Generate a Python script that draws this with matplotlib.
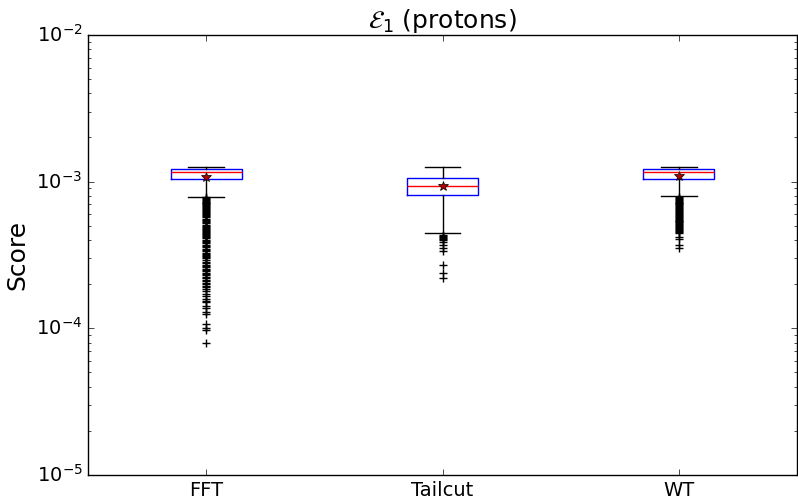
import matplotlib
matplotlib.use("Agg")
import matplotlib.pyplot as plt

# Per-method score distribution summaries (protons, E_1 metric)
methods = ["FFT", "Tailcut", "WT"]
medians = [1.16e-3, 9.35e-4, 1.163e-3]
q1 = [1.038e-3, 8.11e-4, 1.038e-3]
q3 = [1.215e-3, 1.065e-3, 1.215e-3]
whislo = [7.9e-4, 4.45e-4, 8.0e-4]
whishi = [1.259e-3, 1.253e-3, 1.253e-3]
means = [1.072e-3, 9.35e-4, 1.093e-3]

fliers_fft = [7.8e-4, 7.7e-4, 7.6e-4, 7.5e-4, 7.4e-4, 7.3e-4, 7.2e-4, 7.1e-4,
              7.0e-4, 6.9e-4, 6.8e-4, 6.7e-4, 6.6e-4, 6.5e-4, 6.4e-4, 6.3e-4,
              6.2e-4, 6.1e-4, 6.0e-4, 5.9e-4, 5.8e-4, 5.7e-4, 5.6e-4, 5.5e-4,
              5.4e-4, 5.3e-4, 5.2e-4, 5.1e-4, 5.0e-4, 4.92e-4, 4.85e-4,
              4.77e-4, 4.7e-4, 4.62e-4, 4.55e-4, 4.47e-4, 4.4e-4, 4.32e-4,
              4.25e-4, 4.17e-4, 4.1e-4, 4.02e-4, 3.95e-4, 3.87e-4, 3.8e-4,
              3.72e-4, 3.65e-4, 3.57e-4, 3.5e-4, 3.42e-4, 3.35e-4, 3.27e-4,
              3.2e-4, 3.15e-4, 3.1e-4, 3.05e-4, 3.0e-4, 2.92e-4, 2.85e-4,
              2.77e-4, 2.7e-4, 2.65e-4, 2.6e-4, 2.55e-4, 2.5e-4, 2.45e-4,
              2.4e-4, 2.35e-4, 2.3e-4, 2.25e-4, 2.2e-4, 2.15e-4, 2.1e-4,
              2.05e-4, 2.0e-4, 1.95e-4, 1.9e-4, 1.85e-4, 1.8e-4, 1.72e-4,
              1.65e-4, 1.58e-4, 1.54e-4, 1.5e-4, 1.43e-4, 1.37e-4, 1.3e-4,
              1.25e-4, 1.07e-4, 1.01e-4, 9.7e-5, 8.0e-5]
fliers_tailcut = [4.33e-4, 4.25e-4, 4.2e-4, 4.1e-4, 4.05e-4, 4.0e-4, 3.9e-4,
                  3.7e-4, 3.52e-4, 3.37e-4, 2.7e-4, 2.4e-4, 2.2e-4]
fliers_wt = [7.8e-4, 7.7e-4, 7.6e-4, 7.5e-4, 7.4e-4, 7.3e-4, 7.2e-4, 7.1e-4,
             7.0e-4, 6.9e-4, 6.8e-4, 6.7e-4, 6.6e-4, 6.5e-4, 6.4e-4, 6.3e-4,
             6.2e-4, 6.1e-4, 6.0e-4, 5.9e-4, 5.8e-4, 5.72e-4, 5.65e-4,
             5.57e-4, 5.5e-4, 5.42e-4, 5.35e-4, 5.27e-4, 5.2e-4, 5.12e-4,
             5.05e-4, 4.97e-4, 4.9e-4, 4.82e-4, 4.75e-4, 4.67e-4, 4.6e-4,
             4.53e-4, 4.47e-4, 4.2e-4, 4.05e-4, 3.7e-4, 3.52e-4]

fliers = [fliers_fft, fliers_tailcut, fliers_wt]

plt.style.use("classic")
plt.rcParams["mathtext.fontset"] = "dejavusans"

stats = []
for i, name in enumerate(methods):
    stats.append(dict(label=name, med=medians[i], q1=q1[i], q3=q3[i],
                      whislo=whislo[i], whishi=whishi[i], mean=means[i],
                      fliers=fliers[i]))

fig = plt.figure(figsize=(7.98, 4.99), dpi=100, facecolor="white")
ax = fig.add_axes([0.1103, 0.0481, 0.8885, 0.8818])

ax.bxp(stats, positions=[1, 2, 3], widths=0.3, showmeans=True,
       boxprops=dict(color="blue", linewidth=1),
       medianprops=dict(color="red", linewidth=1),
       whiskerprops=dict(color="black", linestyle="-", linewidth=1),
       capprops=dict(color="black", linewidth=1),
       flierprops=dict(marker="+", markeredgecolor="black",
                       markerfacecolor="none", markersize=6, linestyle="none"),
       meanprops=dict(marker="*", markerfacecolor="#b00000",
                      markeredgecolor="black", markersize=7))

ax.set_yscale("log")
ax.set_ylim(1e-5, 1e-2)
ax.set_xlim(0.5, 3.5)
ax.set_xticks([1, 2, 3])
ax.set_xticklabels(methods)
ax.tick_params(labelsize=14)
ax.set_ylabel("Score", fontsize=18)
ax.set_title(r"$\mathcal{E}_1$ (protons)", fontsize=18)

fig.savefig("out.png", dpi=100, facecolor="white")
